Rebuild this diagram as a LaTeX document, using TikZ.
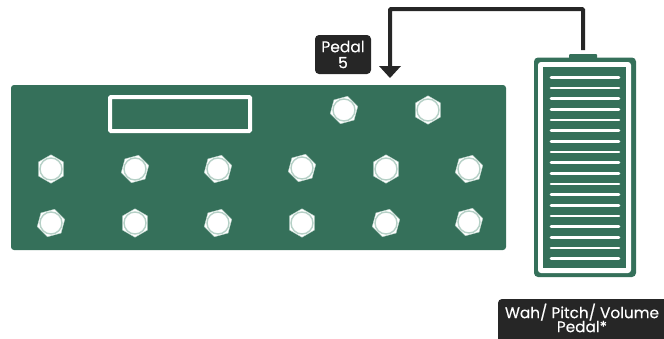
\documentclass[tikz,border=0pt]{standalone}
\usepackage{fontspec}
\setmainfont{Poppins}[FakeBold=0.25]
\usetikzlibrary{shapes.geometric,arrows.meta}
\definecolor{pgreen}{HTML}{35705A}
\definecolor{pdark}{HTML}{262626}
\definecolor{pring}{HTML}{B5D0C6}
\tikzset{
 x=1pt,y=-1pt,
 board/.style={fill=pgreen,rounded corners=3pt},
 hexnut/.style={regular polygon,regular polygon sides=6,minimum size=28.5pt,inner sep=0pt,fill=white,draw=pring,line width=.4pt,rotate=#1},
 hexnut/.default=0,
 ringcap/.style={circle,minimum size=22pt,inner sep=0pt,fill=white,draw=pring,line width=1.4pt},
 tag/.style={fill=pdark,rounded corners=4pt,text=white,font=\fontsize{15.5}{16}\selectfont,align=center,inner sep=0pt,minimum height=39pt},
 tagtext/.style={text=white,align=center,inner sep=0pt,font=\fontsize{15.3}{14}\selectfont},
 wire/.style={draw=pdark,line width=4pt,rounded corners=1pt},
 whitebar/.style={draw=white,line width=2.6pt,line cap=round}
}
\newcommand{\fsw}[4]{\node[hexnut=#4] (#1) at (#2,#3) {}; \node[ringcap] at (#2,#3) {};}
\begin{document}
\begin{tikzpicture}
\useasboundingbox (0,0) rectangle (664,338);
\fill[board] (11,85) rectangle (506,250);
\node[draw=white,line width=4pt,rounded corners=1pt,minimum width=140pt,minimum height=34pt,inner sep=0pt] (display) at (180,114) {};
\fsw{a1}{51}{169}{90}
\fsw{a2}{135}{169}{75}
\fsw{a3}{218}{169}{75}
\fsw{a4}{302}{168}{75}
\fsw{a5}{386}{169}{90}
\fsw{a6}{469}{169}{75}
\fsw{b1}{51}{223}{75}
\fsw{b2}{135}{223}{90}
\fsw{b3}{218}{223}{75}
\fsw{b4}{302}{223}{90}
\fsw{b5}{386}{223}{75}
\fsw{b6}{469}{222}{75}
\fsw{t1}{344}{110}{75}
\fsw{t2}{428}{110}{90}
% pedal
\fill[pgreen,rounded corners=1pt] (569,54) rectangle (597,60);
\fill[pgreen,rounded corners=4pt] (534,57.5) rectangle (636,277);
\fill[white,rounded corners=3pt] (538,62) rectangle (631,273);
\fill[pgreen] (543,67) rectangle (626,268);
\foreach \i in {0,...,17} \draw[whitebar] (551,{77.3+\i*10.67}) -- (619,{77.3+\i*10.67});
\coordinate (tabtop) at (583,50);
\coordinate (tip) at (390,78);
\draw[wire] (tabtop) -- (583,9) -- (390,9) -- (390,68);
\fill[pdark] (tip) -- (379,66) -- (401,66) -- cycle;
\node[tag,minimum width=56pt] (pedalfive) at (343,54.5) {Pedal\\5};
\fill[pdark,rounded corners=4pt] (498,299) rectangle (672,346);
\node[tagtext] (wah) at (582,318) {Wah/ Pitch/ Volume\\Pedal*};
\end{tikzpicture}
\end{document}
